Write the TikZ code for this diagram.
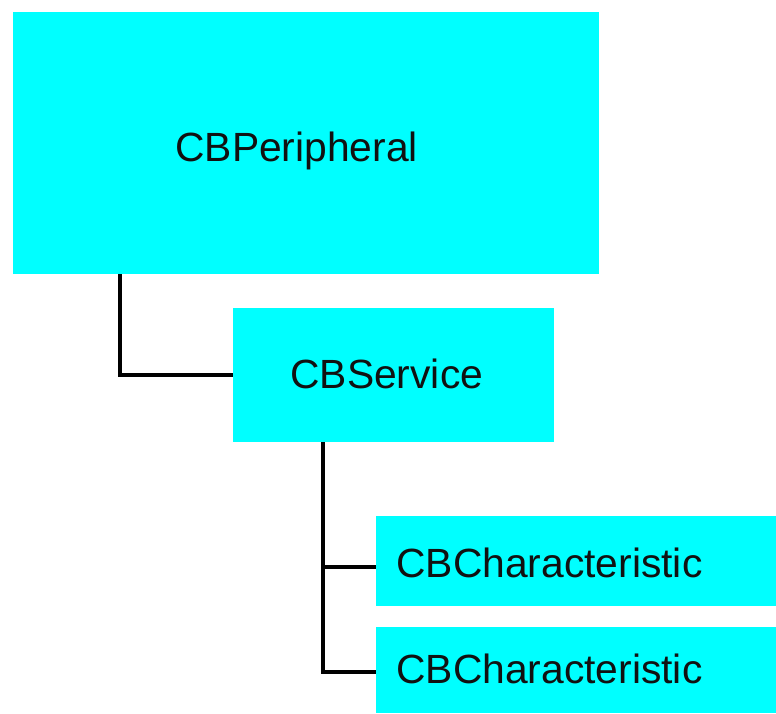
\documentclass[tikz,border=0pt]{standalone}
\usepackage{fontspec}
\setmainfont{Liberation Sans}
\usetikzlibrary{calc}
\definecolor{boxcyan}{RGB}{0,255,255}
\definecolor{txt}{RGB}{17,17,17}
\begin{document}
\begin{tikzpicture}[x=0.5pt,y=-0.5pt,
  box/.style={fill=boxcyan,draw=none,anchor=north west,inner sep=0pt,outer sep=0pt},
  lbl/.style={anchor=base west,inner sep=0pt,text=txt,font=\fontsize{20.4}{24}\selectfont},
  conn/.style={draw=black,line width=1.6pt}]
\useasboundingbox (0,0) rectangle (776,713);
\fill[white] (0,0) rectangle (776,713);
\node[box,minimum width=293pt,minimum height=131pt] (per) at (13,12) {};
\node[box,minimum width=160.5pt,minimum height=67pt] (svc) at (233,308) {};
\node[box,minimum width=200pt,minimum height=45pt] (ch1) at (376,516) {};
\node[box,minimum width=200pt,minimum height=43pt] (ch2) at (376,627) {};
\node[lbl] (tper) at (175,161) {CBPeripheral};
\node[lbl] (tsvc) at (290,388) {CBService};
\node[lbl] (tch1) at (396,577) {CBCharacteristic};
\node[lbl] (tch2) at (396,683) {CBCharacteristic};
\draw[conn] (per.south west) ++(107,0) |- (svc.west);
\draw[conn] (svc.south west) ++(90,0) coordinate (trunk) |- ($(ch2.west)+(0,2)$);
\draw[conn] (trunk |- {$(ch1.west)+(0,6)$}) -- ($(ch1.west)+(0,6)$);
\end{tikzpicture}
\end{document}
